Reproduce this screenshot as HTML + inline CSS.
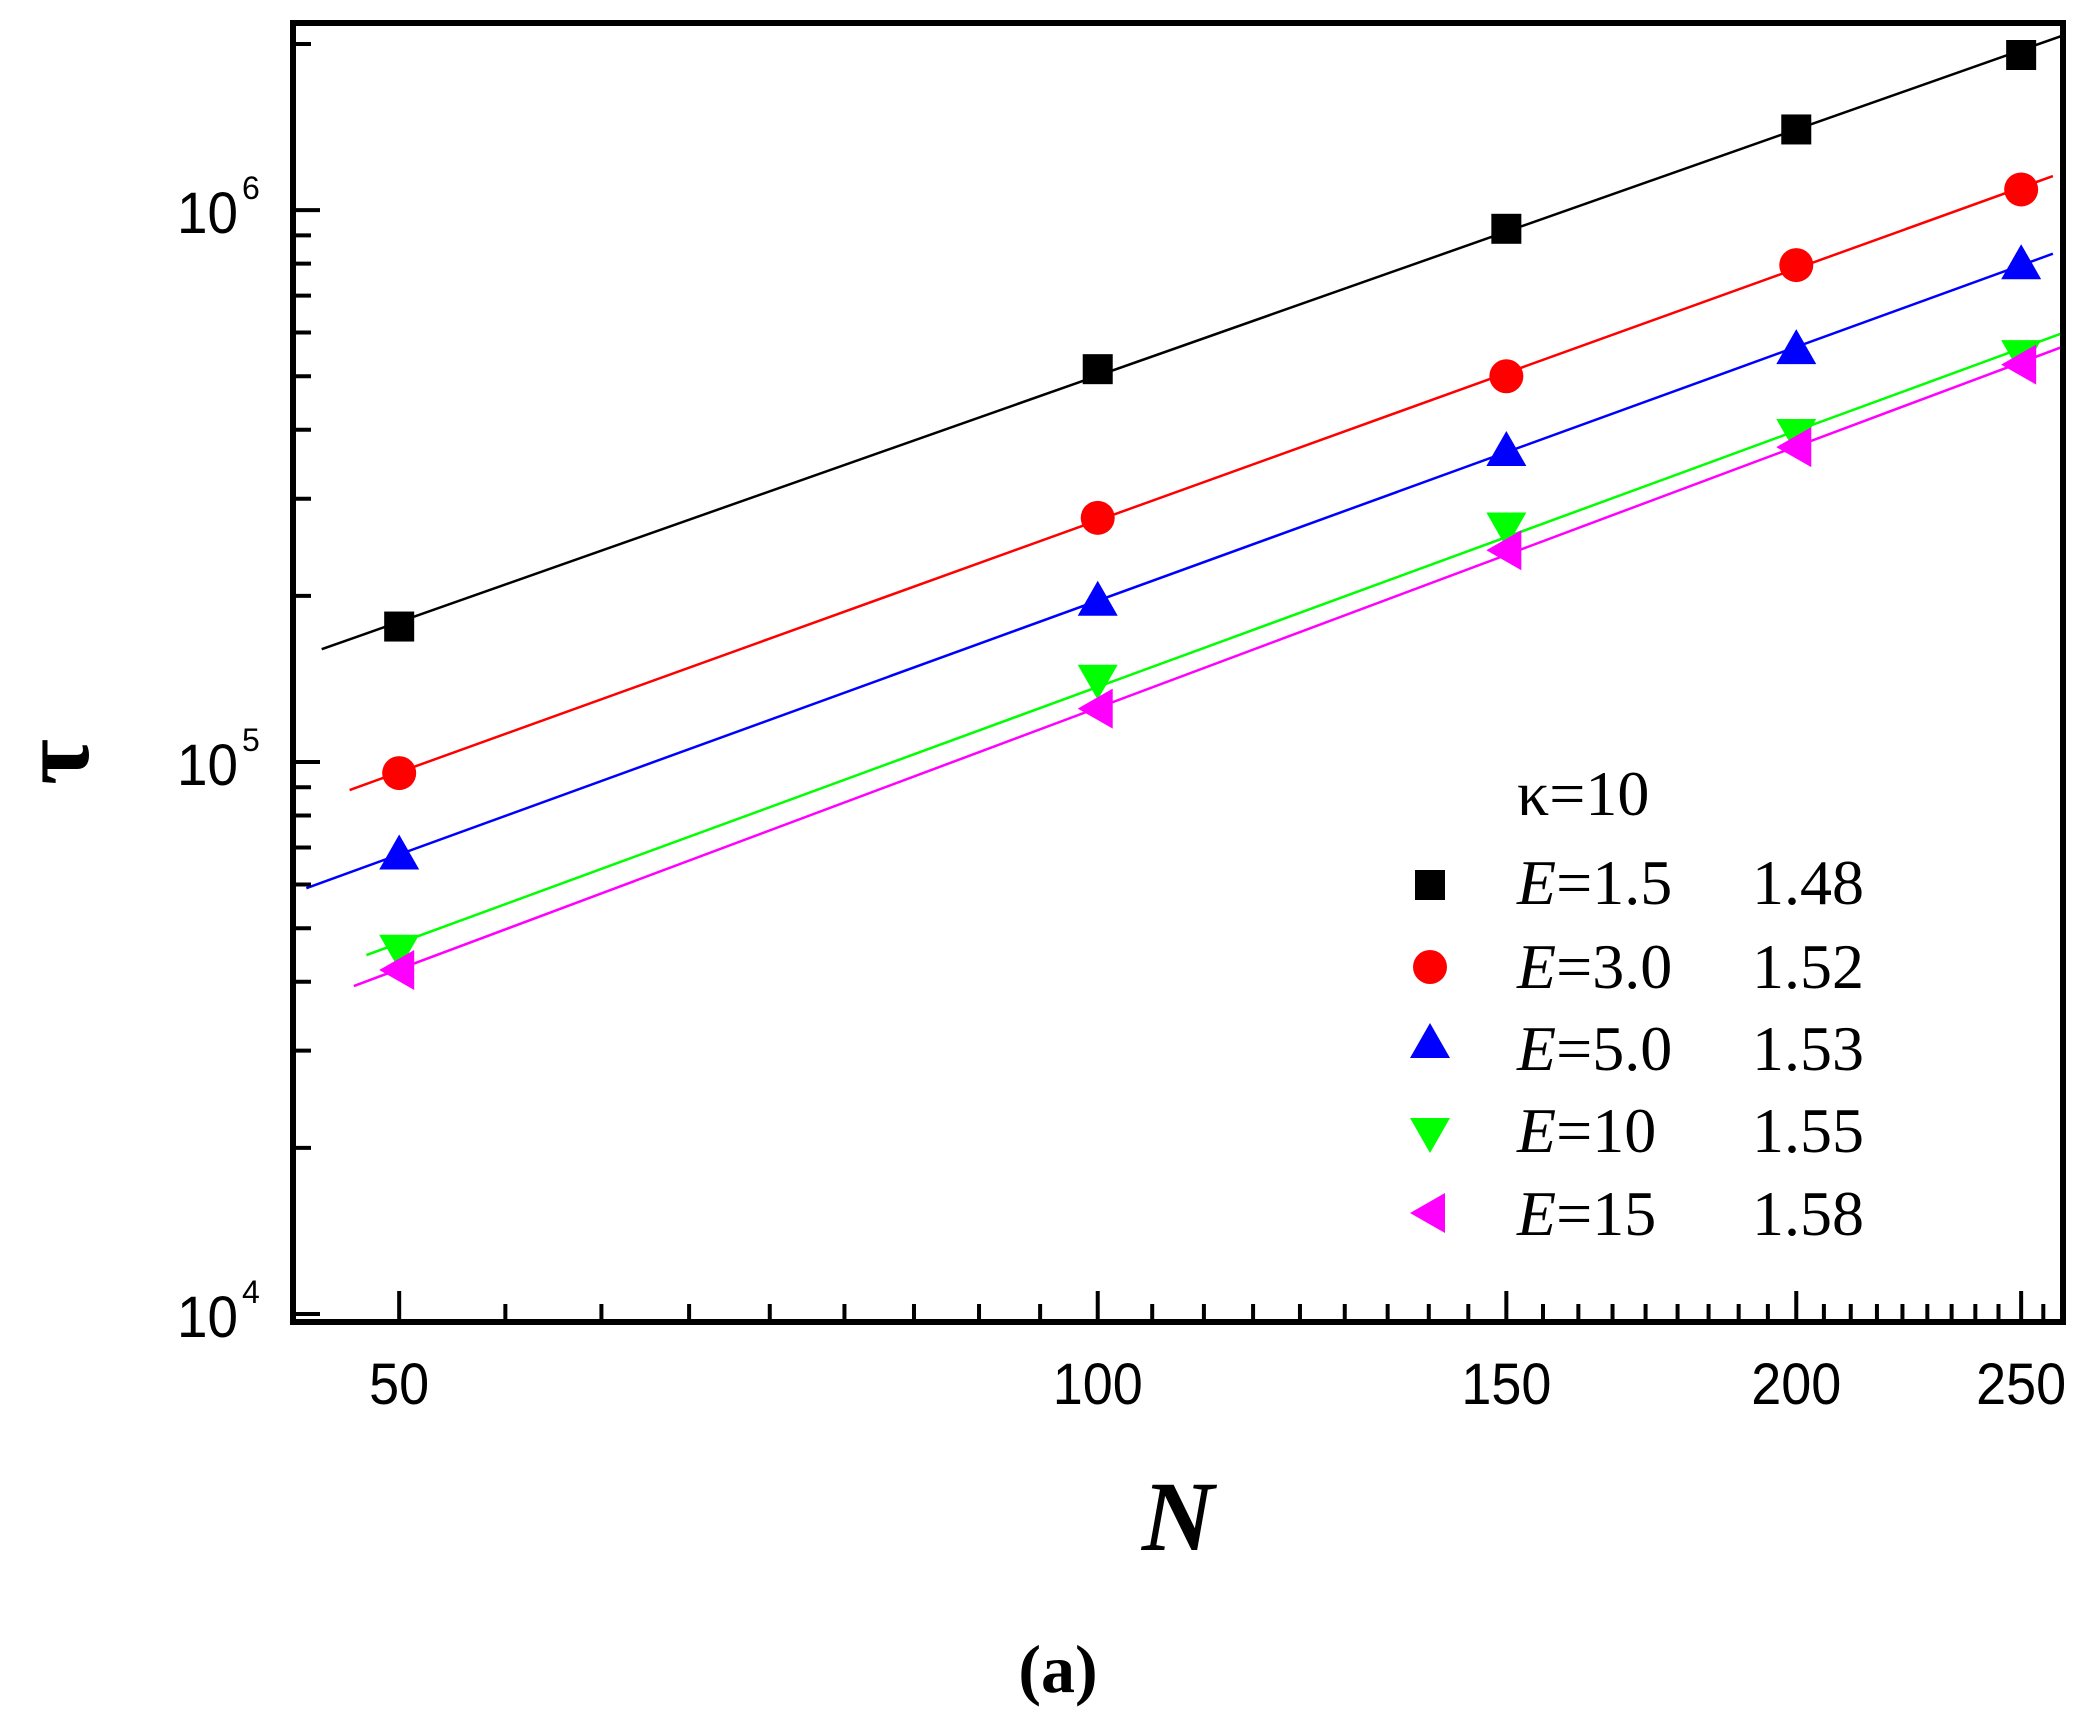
<!DOCTYPE html>
<html><head><meta charset="utf-8">
<style>html,body{margin:0;padding:0;background:#fff}svg{display:block}</style>
</head><body>
<svg id="chart" width="2087" height="1729" viewBox="0 0 2087 1729" xmlns="http://www.w3.org/2000/svg">
<g id="plot"></g>
</svg>
<script>
const categoriesN = [50, 100, 150, 200, 250];
const seriesNames = ["E=1.5", "E=3.0", "E=5.0", "E=10", "E=15"];
const seriesBlack = [1.76e5, 5.15e5, 9.25e5, 1.40e6, 1.91e6];
const seriesRed = [9.55e4, 2.77e5, 5.0e5, 7.95e5, 1.09e6];
const seriesBlue = [6.8e4, 1.96e5, 3.66e5, 5.6e5, 7.98e5];
const seriesGreen = [4.57e4, 1.41e5, 2.66e5, 3.93e5, 5.46e5];
const seriesMagenta = [4.2e4, 1.25e5, 2.42e5, 3.72e5, 5.25e5];
const slopes = ["1.48", "1.52", "1.53", "1.55", "1.58"];
const fitStart = [46.3, 47.6, 45.6, 48.4, 47.8];
const fitEnd = [261, 258, 258, 260, 261];
const xTickLabels = [50, 100, 150, 200, 250];
const yTickExps = [4, 5, 6];

const NS = "http://www.w3.org/2000/svg";
const svg = document.getElementById('chart');
const g = document.getElementById('plot');
const L = 293, R = 2063, T = 23, B = 1322;
const xMin = 45.0, xMax = 260.6, yMinL = 3.9855, yMaxL = 6.339;
function xs(n){ return L + (Math.log10(n) - Math.log10(xMin)) / (Math.log10(xMax) - Math.log10(xMin)) * (R - L); }
function ys(v){ return B - (Math.log10(v) - yMinL) / (yMaxL - yMinL) * (B - T); }
function mk(tag, attrs, parent){ const e = document.createElementNS(NS, tag); for (const k in attrs) e.setAttribute(k, attrs[k]); (parent || g).appendChild(e); return e; }

const colors = ["#000000", "#ff0000", "#0000ff", "#00ff00", "#ff00ff"];
const shapes = ["square", "circle", "up", "down", "left"];
const allSeries = [seriesBlack, seriesRed, seriesBlue, seriesGreen, seriesMagenta];

function marker(shape, cx, cy, color, parent){
  let e;
  if (shape === "square") e = mk('rect', {x: cx-15, y: cy-15, width: 30, height: 30, fill: color}, parent);
  else if (shape === "circle") e = mk('circle', {cx: cx, cy: cy, r: 17, fill: color}, parent);
  else if (shape === "up") e = mk('polygon', {points: `${cx},${cy-20} ${cx+20},${cy+15} ${cx-20},${cy+15}`, fill: color}, parent);
  else if (shape === "down") e = mk('polygon', {points: `${cx-20},${cy-15} ${cx+20},${cy-15} ${cx},${cy+20}`, fill: color}, parent);
  else e = mk('polygon', {points: `${cx-20},${cy} ${cx+15},${cy-20} ${cx+15},${cy+20}`, fill: color}, parent);
  return e;
}

allSeries.forEach((s, i) => {
  const lx = categoriesN.map(Math.log10), ly = s.map(Math.log10);
  const n = lx.length, mx = lx.reduce((a,b)=>a+b)/n, my = ly.reduce((a,b)=>a+b)/n;
  let num = 0, den = 0;
  for (let k = 0; k < n; k++){ num += (lx[k]-mx)*(ly[k]-my); den += (lx[k]-mx)**2; }
  const sl = num/den, ic = my - sl*mx;
  const f = x => Math.pow(10, ic + sl*Math.log10(x));
  const ln = mk('line', {x1: xs(fitStart[i]), y1: ys(f(fitStart[i])), x2: Math.min(xs(fitEnd[i]), R+8), y2: ys(f(fitEnd[i])), stroke: colors[i], 'stroke-width': 2.5});
  
  
});

allSeries.forEach((s, i) => {
  s.forEach((v, k) => {
    const m = marker(shapes[i], xs(categoriesN[k]), ys(v), colors[i]);
    
    
  });
});

const fr = mk('rect', {x: L, y: T, width: R-L, height: B-T, fill: 'none', stroke: '#000', 'stroke-width': 6});



// x ticks: majors every 50, 8 minors between
for (let k = 0; k <= 5 * 9; k++){
  const n = 50 + k * 50 / 9;
  if (n > xMax) break;
  const major = k % 9 === 0;
  const x = xs(n);
  const t = mk('line', {x1: x, y1: B, x2: x, y2: B - (major ? 31 : 18), stroke: '#000', 'stroke-width': 4});
  
  
}
xTickLabels.forEach(n => {
  const t = mk('text', {x: xs(n), y: 1404, 'text-anchor': 'middle', 'font-family': '"Liberation Sans Narrow","Liberation Sans",sans-serif', 'font-size': 58, textLength: String(n).length * 30, lengthAdjust: 'spacingAndGlyphs'});
  t.textContent = n;
  
  
});

for (let e = 3; e <= 6; e++){
  for (let m = 1; m <= 9; m++){
    const v = m * Math.pow(10, e);
    const lv = Math.log10(v);
    if (lv < yMinL || lv > yMaxL) continue;
    const y = ys(v);
    const t = mk('line', {x1: L, y1: y, x2: L + (m === 1 ? 27 : 18), y2: y, stroke: '#000', 'stroke-width': 4});
    
    
  }
}
yTickExps.forEach(e => {
  const y = ys(Math.pow(10, e));
  const t = mk('text', {x: 177, y: y + 23, 'font-family': '"Liberation Sans Narrow","Liberation Sans",sans-serif', 'font-size': 58, textLength: 61, lengthAdjust: 'spacingAndGlyphs'});
  t.textContent = '10';
  
  
  const s = mk('text', {x: 242, y: y - 11, 'font-family': '"Liberation Sans Narrow","Liberation Sans",sans-serif', 'font-size': 32});
  s.textContent = e;
  
  
});

const yt = mk('text', {x: 0, y: 0, transform: 'translate(88,762) rotate(-90)', 'text-anchor': 'middle', 'font-family': '"Liberation Serif",serif', 'font-size': 100, 'font-weight': 'bold'});
yt.textContent = 'τ';


const xt = mk('text', {x: 1178, y: 1550, 'text-anchor': 'middle', 'font-family': '"Liberation Serif",serif', 'font-size': 100, 'font-weight': 'bold', 'font-style': 'italic'});
xt.textContent = 'N';


const cap = mk('text', {x: 1058, y: 1692, 'text-anchor': 'middle', 'font-family': '"Liberation Serif",serif', 'font-size': 68, 'font-weight': 'bold'});
cap.textContent = '(a)';



const lg = mk('g', {});


const kt = mk('text', {x: 1517, y: 815, 'font-family': '"Liberation Serif",serif', 'font-size': 64}, lg);
kt.textContent = 'κ=10';


const baselines = [904, 988, 1070, 1152, 1235];
const mcy = [885, 967, 1043, 1133, 1213];
seriesNames.forEach((nm, i) => {
  const m = marker(shapes[i], 1430, mcy[i], colors[i], lg);
  
  
  const t = mk('text', {x: 1517, y: baselines[i], 'font-family': '"Liberation Serif",serif', 'font-size': 64}, lg);
  const it = document.createElementNS(NS, 'tspan'); it.setAttribute('font-style', 'italic'); it.textContent = 'E'; t.appendChild(it);
  t.appendChild(document.createTextNode(nm.slice(1)));
  
  
  const v = mk('text', {x: 1752, y: baselines[i], 'font-family': '"Liberation Serif",serif', 'font-size': 64}, lg);
  v.textContent = slopes[i];
  
  
});
</script>
</body></html>
